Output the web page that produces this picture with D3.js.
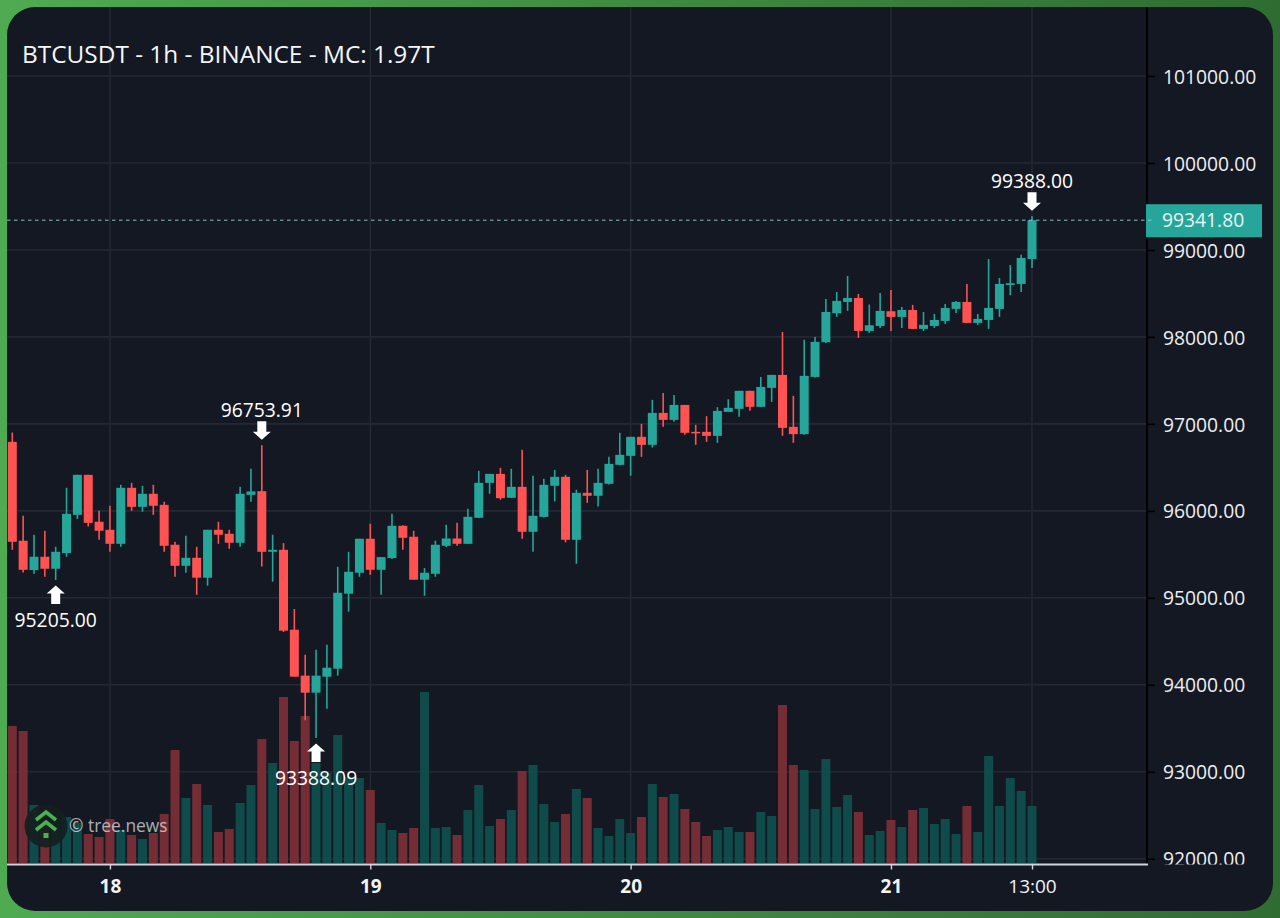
<!DOCTYPE html>
<html>
<head>
<meta charset="utf-8">
<script src="https://cdn.jsdelivr.net/npm/d3@7/dist/d3.min.js"></script>
<style>
html, body { margin: 0; padding: 0; background: #3d8c41; }
svg { display: block; font-family: "Open Sans", sans-serif; }
</style>
</head>
<body>
<div id="chart"></div>
<script>
// candles (1h, from 17 Nov 15:00)
const opens = [96793,95656,95319,95472,95334,95514,95954,96414,95874,95782,95621,96265,96046,96196,96069,95610,95368,95460,95231,95782,95736,95633,96184,96226,95529,95552,94633,94105,93909,94093,94185,95047,95288,95679,95322,95457,95828,95702,95208,95276,95598,95682,95621,95920,96322,96425,96150,96276,95759,95931,96288,96391,95667,96207,96173,96311,96529,96632,96851,96759,97126,97046,97218,96908,96908,96862,97138,97173,97380,97196,97414,97563,96966,96882,97540,97939,98272,98402,98448,98069,98126,98295,98230,98310,98092,98126,98184,98322,98402,98161,98195,98322,98597,98609,98896];
const highs = [96900,95943,95725,95771,95587,96265,96414,96414,96000,96058,96299,96322,96288,96299,96104,95644,95713,95587,95782,95874,95782,96276,96483,96753.91,95725,95629,94871,94346,94403,94461,95357,95529,95679,95851,95468,95966,95835,95771,95342,95656,95840,95862,96023,96460,96425,96494,96483,96701,96403,96368,96471,96414,96242,96471,96483,96621,96897,96851,97000,97276,97356,97333,97218,96989,97088,97192,97283,97380,97380,97540,97563,98057,97322,97966,98000,98437,98517,98701,98494,98372,98506,98540,98345,98368,98287,98264,98379,98414,98609,98264,98896,98678,98827,98946,99388];
const lows = [95552,95292,95277,95242,95205,95472,95905,95820,95667,95529,95587,96000,95989,95954,95529,95242,95288,95035,95139,95621,95564,95587,96104,95361,95185,94606,94093,93591,93388.09,93725,94105,94840,95242,95265,95035,95445,95552,95208,95024,95242,95583,95598,95621,95920,96196,96127,96150,95679,95529,95923,96108,95637,95391,96092,96050,96303,96525,96403,96621,96728,96966,97023,96874,96759,96793,96782,97138,97081,97150,97196,97253,96862,96782,96874,97533,97931,98230,98299,97989,98046,98103,98069,98103,98092,98069,98103,98149,98276,98157,98138,98092,98230,98479,98517,98793];
const closes = [95644,95322,95472,95334,95529,95966,96414,95862,95771,95621,96265,96046,96196,96058,95598,95368,95460,95231,95782,95725,95633,96196,96223,95529,95552,94622,94093,93909,94105,94196,95058,95299,95679,95322,95468,95828,95690,95208,95288,95610,95682,95621,95931,96322,96425,96146,96276,95759,95943,96299,96391,95667,96207,96173,96322,96540,96644,96851,96759,97126,97046,97218,96897,96897,96862,97149,97184,97380,97196,97425,97563,96954,96882,97552,97943,98287,98414,98448,98069,98134,98299,98230,98310,98092,98138,98195,98333,98402,98161,98207,98333,98609,98617,98908,99341.8];
// volume, relative units (pane has no scale of its own)
const volumes = [137,132,58,40,36,46,40,29,26,44,33,28,24,30,49,113,65,79,58,31,34,60,78,124,100,166,122,147,100,90,128,86,85,73,40,33,30,35,171,35,36,28,53,78,37,44,53,92,98,59,41,49,74,65,35,27,44,30,46,79,66,69,54,41,27,33,36,31,31,51,47,158,98,93,54,104,56,68,51,28,32,43,36,53,55,39,44,29,57,31,107,57,85,72,57];

const priceTicks = [92000,93000,94000,95000,96000,97000,98000,99000,100000,101000];
const timeTicks = [Date.UTC(2024,10,18), Date.UTC(2024,10,19), Date.UTC(2024,10,20), Date.UTC(2024,10,21), Date.UTC(2024,10,21,13)];
const timeLabels = ["18","19","20","21","13:00"];
const startTime = Date.UTC(2024,10,17,15);
const lastPrice = 99341.8;
// [candle index, price, direction]
const markers = [[4,95205,"up"],[23,96753.91,"down"],[28,93388.09,"up"],[94,99388,"down"]];
const titleText = "BTCUSDT - 1h - BINANCE - MC: 1.97T";

const width = 1280, height = 918;
const upColor = "#26a69a", downColor = "#ff5252";
const upVol = "#0f4f4c", downVol = "#7b2f36";
const panelColor = "#141822", gridColor = "#242833";
const scaleX = 1147, axisY = 864.5;
const labelSize = 19.3;

const hour = 3600000;
const svg = d3.select("#chart").append("svg").attr("width", width).attr("height", height);

const defs = svg.append("defs");
const frameGrad = defs.append("linearGradient").attr("id", "frame");
frameGrad.append("stop").attr("offset", "0%").attr("stop-color", "#4fab51");
frameGrad.append("stop").attr("offset", "100%").attr("stop-color", "#2f6c31");
defs.append("clipPath").attr("id", "plot").append("rect").attr("x", 7).attr("y", 7).attr("width", scaleX - 7).attr("height", axisY - 7);
// the lowest price label is cut off by the time axis, local coords of the y axis group
defs.append("clipPath").attr("id", "scale").append("rect").attr("x", 0).attr("y", 7).attr("width", 130).attr("height", axisY - 7);

svg.append("rect").attr("width", width).attr("height", height).attr("fill", "url(#frame)");
svg.append("rect").attr("x", 7).attr("y", 7).attr("width", 1266).attr("height", 904).attr("rx", 28).attr("fill", panelColor);

const x = d3.scaleUtc().domain([startTime, startTime + 94 * hour]).range([12.3, 1032]);
const y = d3.scaleLinear().domain([92000, 101000]).range([858.7, 76]);
const yVol = d3.scaleLinear().domain([0, 172]).range([863, 691]);
const candleX = i => x(startTime + i * hour);

// grid
const grid = svg.append("g").attr("stroke", gridColor).attr("stroke-width", 1.6);
grid.selectAll(".h").data(priceTicks).enter().append("line").attr("class", "h")
    .attr("x1", 7).attr("x2", scaleX).attr("y1", d => y(d)).attr("y2", d => y(d));
grid.selectAll(".v").data(timeTicks).enter().append("line").attr("class", "v")
    .attr("x1", d => x(d)).attr("x2", d => x(d)).attr("y1", 7).attr("y2", axisY);

const plot = svg.append("g").attr("clip-path", "url(#plot)");

// volume
plot.selectAll(".vol").data(volumes).enter().append("rect").attr("class", "vol")
    .attr("x", (d, i) => candleX(i) - 4.5)
    .attr("width", 9)
    .attr("y", d => yVol(d))
    .attr("height", d => yVol(0) - yVol(d))
    .attr("fill", (d, i) => closes[i] >= opens[i] ? upVol : downVol)
    .attr("fill-opacity", 0.94);

// candles
plot.selectAll(".wick").data(opens).enter().append("line").attr("class", "wick")
    .attr("x1", (d, i) => candleX(i)).attr("x2", (d, i) => candleX(i))
    .attr("y1", (d, i) => y(highs[i])).attr("y2", (d, i) => y(lows[i]))
    .attr("stroke-width", 1.6)
    .attr("stroke", (d, i) => closes[i] >= d ? upColor : downColor);
plot.selectAll(".body").data(opens).enter().append("rect").attr("class", "body")
    .attr("x", (d, i) => candleX(i) - 4.5)
    .attr("width", 9)
    .attr("y", (d, i) => y(Math.max(d, closes[i])))
    .attr("height", (d, i) => Math.max(1.5, Math.abs(y(d) - y(closes[i]))))
    .attr("fill", (d, i) => closes[i] >= d ? upColor : downColor);

// watermark
const mark = svg.append("g").attr("transform", "translate(46,826)");
mark.append("circle").attr("r", 21.5).attr("fill", "#141f1f").attr("fill-opacity", 0.92);
mark.append("path").attr("d", "M-10,-6 L0,-14 L10,-6 M-10,4 L0,-4 L10,4")
    .attr("fill", "none").attr("stroke", "#4caf50").attr("stroke-width", 3.6);
mark.append("rect").attr("x", -2.5).attr("y", 7).attr("width", 5).attr("height", 5).attr("fill", "#4caf50");
svg.append("text").attr("x", 69).attr("y", 832).attr("font-size", 17.4)
    .attr("fill", "#e8eaee").attr("fill-opacity", 0.72).text("© tree.news");

// arrows and price notes
const note = svg.selectAll(".note").data(markers).enter().append("g").attr("class", "note")
    .attr("transform", d => `translate(${candleX(d[0])},${y(d[1])})`);
note.append("path")
    .attr("d", d => d[2] === "up"
        ? "M0,5.5 L9,13.5 L4.5,13.5 L4.5,24 L-4.5,24 L-4.5,13.5 L-9,13.5 Z"
        : "M0,-5.5 L9,-13.5 L4.5,-13.5 L4.5,-24 L-4.5,-24 L-4.5,-13.5 L-9,-13.5 Z")
    .attr("fill", "#fff");
note.append("text")
    .attr("text-anchor", "middle")
    .attr("y", d => d[2] === "up" ? 47 : -28.5)
    .attr("font-size", labelSize)
    .attr("fill", "#fff")
    .text(d => d3.format(".2f")(d[1]));

// axes
svg.append("line").attr("x1", scaleX).attr("x2", scaleX).attr("y1", 7).attr("y2", axisY).attr("stroke", "#000").attr("stroke-width", 1.8);

const yAxis = d3.axisRight(y).tickValues(priceTicks).tickFormat(d3.format(".2f")).tickSize(8).tickPadding(8);
const yG = svg.append("g").attr("transform", `translate(${scaleX},0)`).attr("clip-path", "url(#scale)").call(yAxis);
yG.select(".domain").remove();
yG.selectAll("line").attr("stroke", "#000").attr("stroke-width", 1.6);
yG.selectAll("text").attr("fill", "#eceef2").attr("font-size", labelSize).attr("font-family", '"Open Sans", sans-serif').attr("dy", "0.37em");

// current price tag
svg.append("rect").attr("x", scaleX - 1).attr("y", y(lastPrice) - 16).attr("width", 116).attr("height", 33).attr("fill", upColor);
svg.append("text").attr("x", 1162).attr("y", y(lastPrice)).attr("dy", "0.37em").attr("font-size", labelSize)
    .attr("fill", "#e6f5f3").text(d3.format(".2f")(lastPrice));

// last price line
svg.append("line").attr("x1", 7).attr("x2", 1153).attr("y1", y(lastPrice)).attr("y2", y(lastPrice))
    .attr("stroke", "#8fd6ce").attr("stroke-width", 0.9).attr("stroke-dasharray", "3.5,3.5");

const xAxis = d3.axisBottom(x).tickValues(timeTicks).tickFormat((d, i) => timeLabels[i]).tickSize(5).tickPadding(10);
const xG = svg.append("g").attr("transform", `translate(0,${axisY})`).call(xAxis);
xG.select(".domain").remove();
xG.selectAll("line").attr("stroke", "#d1d4dc").attr("stroke-width", 1.4);
xG.selectAll("text").attr("fill", "#f2f3f5").attr("font-size", 19).attr("font-family", '"Open Sans", sans-serif')
    .attr("font-weight", (d, i) => timeLabels[i].includes(":") ? 400 : 700);
svg.append("line").attr("x1", 7).attr("x2", scaleX + 1).attr("y1", axisY).attr("y2", axisY).attr("stroke", "#d1d4dc").attr("stroke-width", 2);

// title
svg.append("text").attr("x", 22).attr("y", 63).attr("font-size", 24.4).attr("fill", "#f5f6f8").text(titleText);
</script>
</body>
</html>
